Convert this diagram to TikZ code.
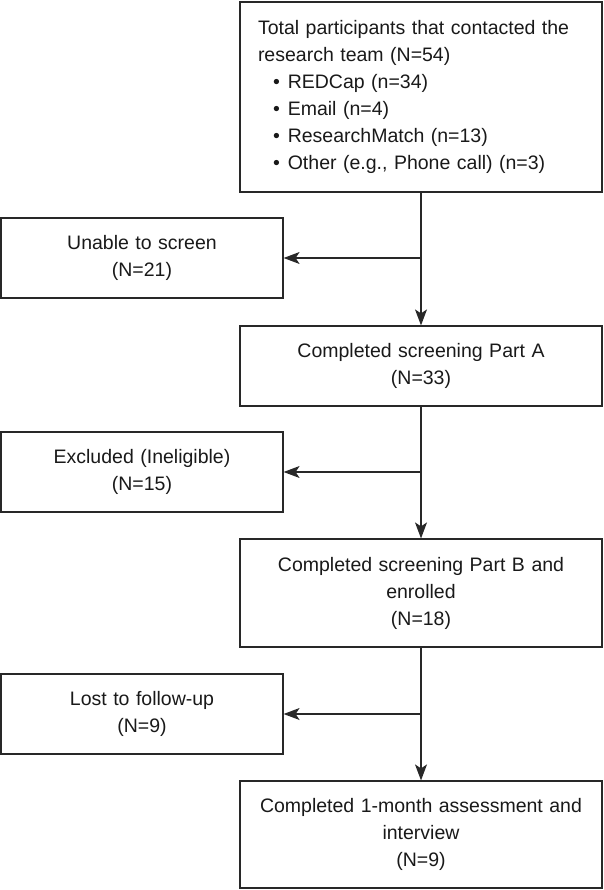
\documentclass[tikz,border=0pt]{standalone}
\usepackage{fontspec}
\setmainfont{Liberation Sans}
\usepackage{tikz}
\usetikzlibrary{arrows.meta,positioning}
\usepackage{xcolor}
\definecolor{fcline}{RGB}{40,40,40}
\definecolor{fctext}{RGB}{25,25,25}
\newcommand{\fcfont}{\fontsize{19.5}{27}\selectfont}
\newcommand{\fcitem}[1]{\hspace*{15pt}\textbullet\hspace{8pt}#1}
\tikzstyle{fcbox} = [draw=fcline, line width=1.2pt, rectangle, inner sep=0pt, align=center, text=fctext, font=\fcfont]
\tikzstyle{mainbox} = [fcbox, minimum width=362pt, text width=340pt]
\tikzstyle{sidebox} = [fcbox, minimum width=282pt, text width=270pt, minimum height=80pt]
\tikzstyle{arrow} = [line width=1.2pt, draw=fcline, -{Stealth[length=16pt,width=12pt,inset=4pt]}]

\begin{document}
\begin{tikzpicture}[x=1pt, y=-1pt]
\useasboundingbox (0,0) rectangle (603,890);

% Main flow
\node[mainbox, text width=326pt, align=left, minimum height=190pt] (total) at (421,97) {%
Total participants that contacted the\\
research team (N=54)\\
\fcitem{REDCap (n=34)}\\
\fcitem{Email (n=4)}\\
\fcitem{ResearchMatch (n=13)}\\
\fcitem{Other (e.g., Phone call) (n=3)}};
\node[mainbox, minimum height=80pt] (partA) at (421,366) {Completed screening Part A\\(N=33)};
\node[mainbox, minimum height=108pt] (enrolled) at (421,593) {Completed screening Part B and\\enrolled\\(N=18)};
\node[mainbox, minimum height=107pt] (month) at (421,834.5) {Completed 1-month assessment and\\interview\\(N=9)};

% Drop-outs
\node[sidebox] (unable) at (142,258) {Unable to screen\\(N=21)};
\node[sidebox] (excluded) at (142,472) {Excluded (Ineligible)\\(N=15)};
\node[sidebox] (lost) at (142,714) {Lost to follow-up\\(N=9)};

\draw[arrow] (total) -- (partA);
\draw[arrow] (partA) -- (enrolled);
\draw[arrow] (enrolled) -- (month);

\draw[arrow] (total.south |- unable.east) -- (unable.east);
\draw[arrow] (partA.south |- excluded.east) -- (excluded.east);
\draw[arrow] (enrolled.south |- lost.east) -- (lost.east);
\end{tikzpicture}
\end{document}
